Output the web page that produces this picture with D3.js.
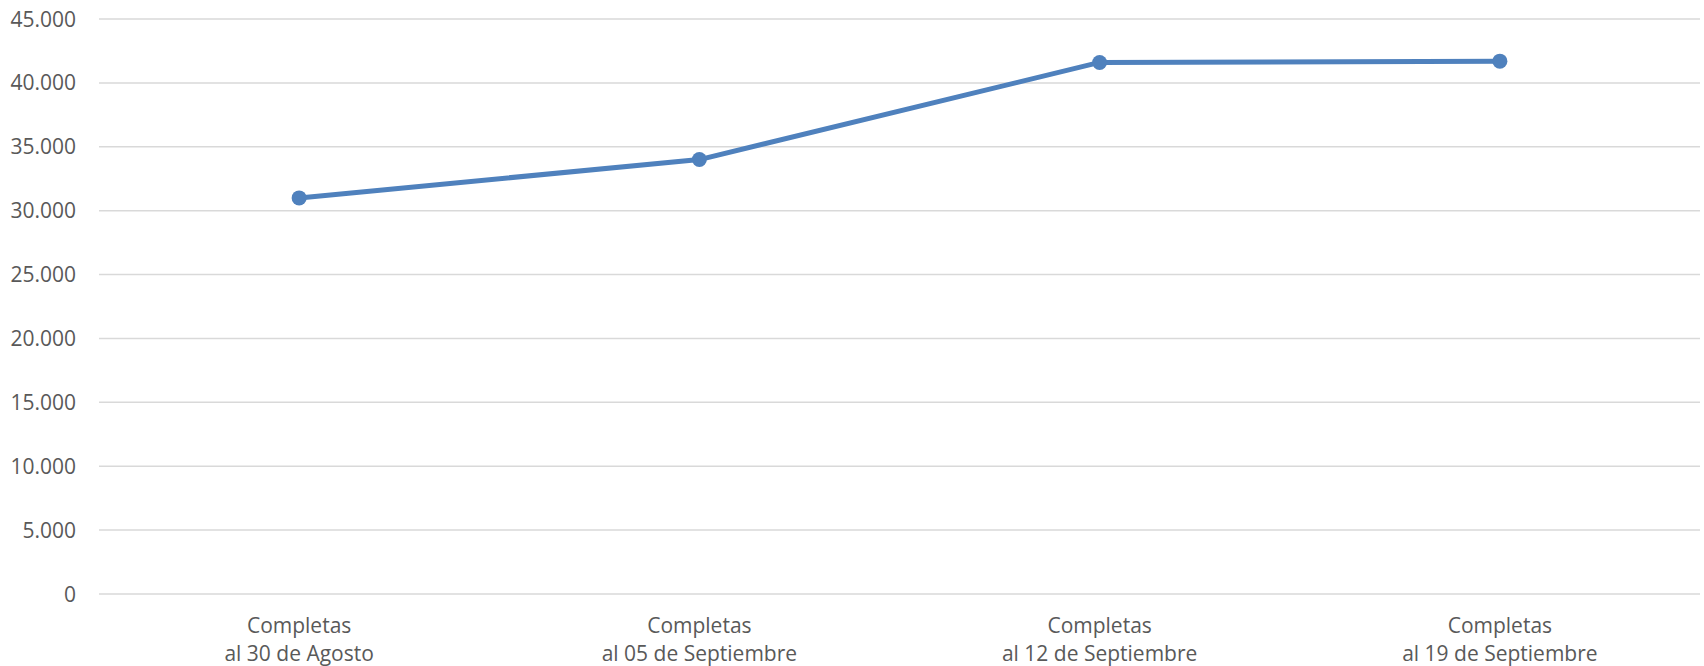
<!DOCTYPE html>
<html>
<head>
<meta charset="utf-8">
<script src="https://cdn.jsdelivr.net/npm/d3@7"></script>
<style>
  html, body { margin: 0; padding: 0; background: #fff; }
  svg text { font-family: "Open Sans", sans-serif; fill: #595959; }
</style>
</head>
<body>
<div id="chart"></div>
<script>
// data
const categories = [
    ['Completas', 'al 30 de Agosto'],
    ['Completas', 'al 05 de Septiembre'],
    ['Completas', 'al 12 de Septiembre'],
    ['Completas', 'al 19 de Septiembre']
];
const values = [31000, 34000, 41600, 41700];
const yTicks = [0, 5000, 10000, 15000, 20000, 25000, 30000, 35000, 40000, 45000];

const width = 1704;
const height = 666;
const margin = { top: 19, right: 4, bottom: 72, left: 99 };

const svg = d3.select('#chart')
    .append('svg')
    .attr('width', width)
    .attr('height', height);

const x = d3.scaleBand()
    .domain(d3.range(categories.length))
    .range([margin.left, width - margin.right]);

const y = d3.scaleLinear()
    .domain([0, 45000])
    .range([height - margin.bottom, margin.top]);

// thousands separator is a dot
const fmt = d3.formatLocale({ decimal: ',', thousands: '.', grouping: [3], currency: ['', ''] }).format(',d');

// gridlines
svg.append('g')
    .selectAll('line')
    .data(yTicks)
    .enter().append('line')
    .attr('x1', margin.left)
    .attr('x2', width - margin.right)
    .attr('y1', d => y(d))
    .attr('y2', d => y(d))
    .attr('stroke', '#d9d9d9')
    .attr('stroke-width', 1.5);

// y labels
svg.append('g')
    .selectAll('text')
    .data(yTicks)
    .enter().append('text')
    .attr('x', 76)
    .attr('y', d => y(d))
    .attr('dy', '0.36em')
    .attr('text-anchor', 'end')
    .style('font-size', '21px')
    .text(d => fmt(d));

// x labels, two lines each
const xl = svg.append('g')
    .selectAll('text')
    .data(categories)
    .enter().append('text')
    .attr('text-anchor', 'middle')
    .style('font-size', '21px');

xl.selectAll('tspan')
    .data((d, i) => d.map(t => ({ t, i })))
    .enter().append('tspan')
    .attr('x', d => x(d.i) + x.bandwidth() / 2)
    .attr('y', (d, j) => 633 + j * 28)
    .text(d => d.t);

// line + markers
const line = d3.line()
    .x((d, i) => x(i) + x.bandwidth() / 2)
    .y(d => y(d));

svg.append('path')
    .datum(values)
    .attr('d', line)
    .attr('fill', 'none')
    .attr('stroke', '#4f81bd')
    .attr('stroke-width', 5)
    .attr('stroke-linejoin', 'round');

svg.append('g')
    .selectAll('circle')
    .data(values)
    .enter().append('circle')
    .attr('cx', (d, i) => x(i) + x.bandwidth() / 2)
    .attr('cy', d => y(d))
    .attr('r', 7.5)
    .attr('fill', '#4f81bd');
</script>
</body>
</html>
